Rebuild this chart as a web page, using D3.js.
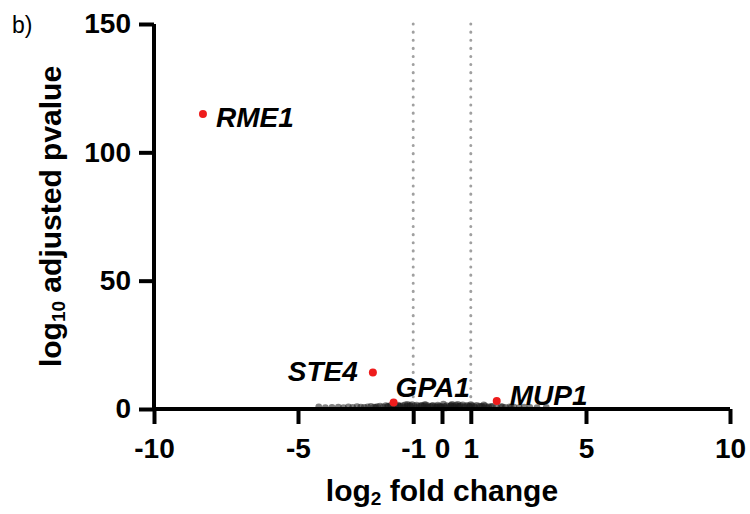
<!DOCTYPE html>
<html>
<head>
<meta charset="utf-8">
<script src="https://cdn.jsdelivr.net/npm/d3@7.9.0/dist/d3.min.js"></script>
<style>
  body { margin: 0; background: #fff; }
  svg { font-family: "Liberation Sans", Arial, sans-serif; }
</style>
</head>
<body>
<svg id="chart" width="750" height="514"></svg>
<script>
// highlighted genes
const genes = ['RME1', 'STE4', 'GPA1', 'MUP1'];
const geneFC = [-8.3, -2.4, -1.68, 1.9];
const geneP = [114.9, 14.2, 2.5, 3.1];

// background genes (log2 fold change, log10 adjusted pvalue)
const bgFC = [-4.28, -4.05, -3.82, -3.6, -3.42, -3.25, -3.1, -2.95, -2.82, -2.7,
  -2.58, -2.47, -2.36, -2.25, -2.15, -2.05, -1.95, -1.86, -1.78, -1.7,
  -1.6, -1.52, -1.44, -1.36, -1.28, -1.2, -1.12, -1.04, -0.96, -0.88,
  -0.8, -0.72, -0.64, -0.56, -0.48, -0.4, -0.32, -0.24, -0.16, -0.08,
  0.0, 0.08, 0.16, 0.24, 0.32, 0.4, 0.48, 0.56, 0.64, 0.72,
  0.8, 0.88, 0.96, 1.04, 1.12, 1.2, 1.3, 1.4, 1.5, 1.62,
  1.75, 1.9, 2.05, 2.2, 2.35, 2.5, 2.68, 2.85, 3.05, 3.3, 3.62,
  -1.9, -1.5, -1.1, -0.7, -0.35, -0.05, 0.3, 0.6, 0.95, 1.35, 1.7, 2.1,
  -1.7, -1.3, -0.9, -0.5, -0.2, 0.12, 0.45, 0.78, 1.15, 1.55, -2.3, 2.4,
  -1.2, -0.6, 0.05, 0.55, 1.0, 1.45, -0.15, 0.35];
const bgP = [0.8, 0.5, 0.6, 0.7, 0.5, 0.8, 0.6, 0.9, 0.7, 0.6,
  0.8, 1.0, 0.7, 0.9, 1.1, 0.8, 1.3, 1.0, 1.4, 0.9,
  1.2, 1.5, 1.0, 1.3, 1.6, 1.1, 1.4, 1.7, 1.2, 1.5,
  1.0, 1.4, 1.1, 1.6, 1.2, 0.9, 1.4, 1.0, 0.8, 1.1,
  0.7, 1.0, 1.3, 0.9, 1.4, 1.1, 1.5, 1.0, 1.3, 1.6,
  1.1, 1.4, 0.9, 1.3, 1.0, 1.4, 1.1, 0.9, 1.2, 0.8,
  1.0, 0.7, 0.9, 0.6, 0.8, 0.7, 0.5, 0.7, 0.6, 0.5, 0.6,
  0.9, 1.1, 1.0, 1.2, 1.1, 0.9, 1.2, 1.0, 1.1, 1.0, 0.9, 0.8,
  0.5, 0.6, 0.5, 0.6, 0.5, 0.4, 0.5, 0.6, 0.5, 0.5, 0.6, 0.7,
  1.8, 1.7, 1.9, 1.8, 1.7, 1.6, 1.5, 1.8];

const xTicks = [-10, -5, -1, 0, 1, 5, 10];
const yTicks = [0, 50, 100, 150];
const cutoffs = [-1, 1];

const svg = d3.select('#chart');
const x = d3.scaleLinear().domain([-10, 10]).range([154, 730]);
const y = d3.scaleLinear().domain([0, 150]).range([409, 24]);

// panel tag
svg.append('text').attr('x', 12).attr('y', 33)
  .style('font-size', '23px').text('b)');

// dotted cutoff lines
svg.selectAll('.cut').data(cutoffs).enter().append('line')
  .attr('x1', d => x(d)).attr('x2', d => x(d))
  .attr('y1', y(150)).attr('y2', y(2.5))
  .attr('stroke', '#a0a0a0').attr('stroke-width', 3)
  .attr('stroke-linecap', 'round')
  .attr('stroke-dasharray', '0.1 8');

// background points
svg.selectAll('.bg').data(d3.range(bgFC.length)).enter().append('circle')
  .attr('cx', i => x(bgFC[i])).attr('cy', i => y(bgP[i]))
  .attr('r', 3.4).attr('fill', '#1a1a1a').attr('fill-opacity', 0.55);

// axes
const xAxis = svg.append('g').attr('transform', `translate(0,${y(0)})`)
  .call(d3.axisBottom(x).tickValues(xTicks).tickSize(15).tickPadding(14).tickFormat(d3.format('d')));
const yAxis = svg.append('g').attr('transform', `translate(${x(-10)},0)`)
  .call(d3.axisLeft(y).tickValues(yTicks).tickSize(15).tickPadding(8));

[xAxis, yAxis].forEach(g => {
  g.select('.domain').attr('stroke', '#000').attr('stroke-width', 4);
  g.selectAll('.tick line').attr('stroke', '#000').attr('stroke-width', 4);
  g.selectAll('.tick text').attr('fill', '#000')
    .style('font-size', '28px').style('font-weight', 'bold')
    .style('font-family', '"Liberation Sans", Arial, sans-serif');
});
xAxis.select('.domain').attr('d', `M${x(-10)},0H${x(10)}`);
yAxis.select('.domain').attr('d', `M0,${y(150)}V${y(0)}`);
xAxis.selectAll('.tick text').text(d => d < 0 ? '-' + Math.abs(d) : d);

// highlighted points
svg.selectAll('.hit').data(genes).enter().append('circle')
  .attr('cx', (d, i) => x(geneFC[i])).attr('cy', (d, i) => y(geneP[i]))
  .attr('r', 4).attr('fill', '#ee1c1c');

const labelDx = [13, -15, 2, 13];
const labelDy = [13, 8, -6, 4];
svg.selectAll('.lab').data(genes).enter().append('text')
  .attr('x', (d, i) => x(geneFC[i]) + labelDx[i])
  .attr('y', (d, i) => y(geneP[i]) + labelDy[i])
  .attr('text-anchor', (d, i) => labelDx[i] < 0 ? 'end' : 'start')
  .style('font-size', '28px').style('font-weight', 'bold').style('font-style', 'italic')
  .text(d => d);

// axis titles
const xt = svg.append('text').attr('x', x(0)).attr('y', 501)
  .attr('text-anchor', 'middle')
  .style('font-size', '30px').style('font-weight', 'bold');
xt.append('tspan').text('log');
xt.append('tspan').attr('dy', 4).style('font-size', '19px').text('2');
xt.append('tspan').attr('dy', -4).text(' fold change');

const yt = svg.append('text')
  .attr('transform', `translate(61,${(y(0) + y(150)) / 2}) rotate(-90)`)
  .attr('text-anchor', 'middle')
  .style('font-size', '30px').style('font-weight', 'bold');
yt.append('tspan').text('log');
yt.append('tspan').attr('dy', 4).style('font-size', '19px').text('10');
yt.append('tspan').attr('dy', -4).text(' adjusted pvalue');
</script>
</body>
</html>
